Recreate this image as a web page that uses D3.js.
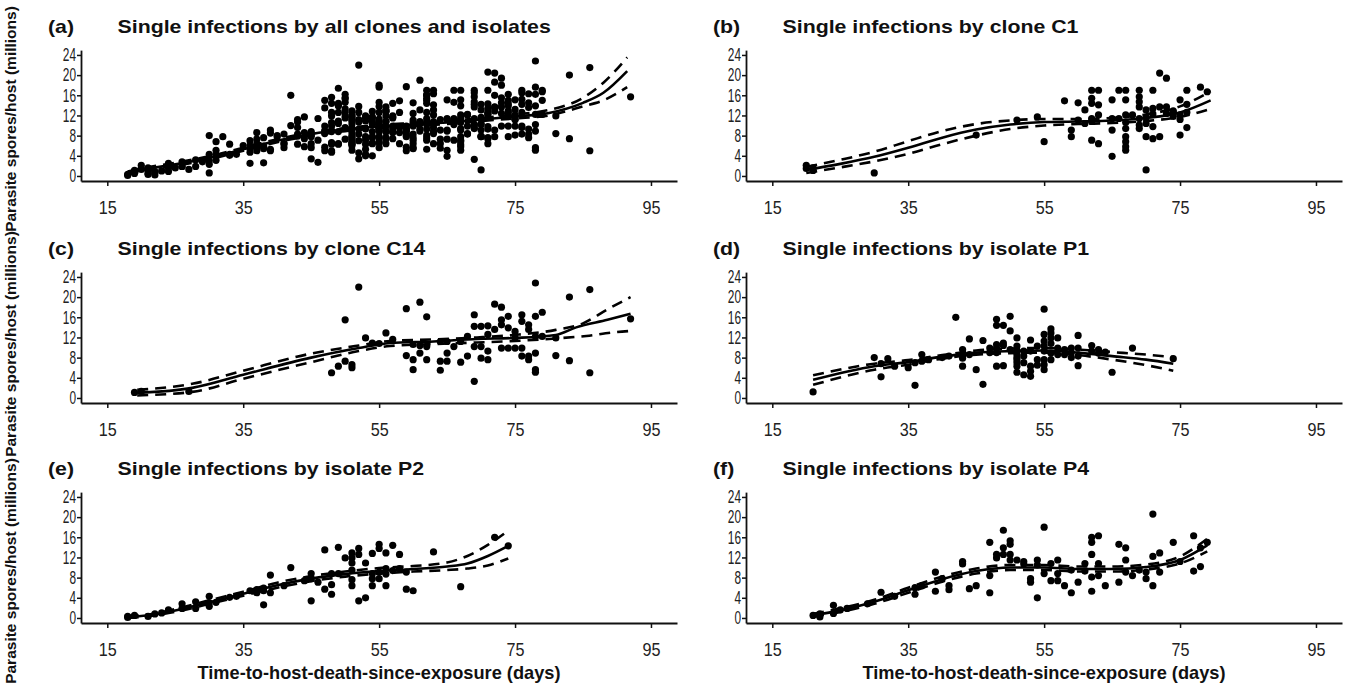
<!DOCTYPE html>
<html><head><meta charset="utf-8">
<script src="https://cdn.jsdelivr.net/npm/d3@7"></script>
<style>body{margin:0;background:#fff}svg{display:block}</style>
</head><body>
<svg id="chart" width="1349" height="685"></svg>
<script>
const xTicks = [15, 35, 55, 75, 95];
const yTicks = [0, 4, 8, 12, 16, 20, 24];
const panelLetters = ["(a)", "(b)", "(c)", "(d)", "(e)", "(f)"];
const panelTitles = [
  "Single infections by all clones and isolates",
  "Single infections by clone C1",
  "Single infections by clone C14",
  "Single infections by isolate P1",
  "Single infections by isolate P2",
  "Single infections by isolate P4"
];
const xAxisTitle = "Time-to-host-death-since-exposure (days)";
const yAxisTitle = "Parasite spores/host (millions)";

// observed points [day, spores]
const c1Points = [[20,2.1],[20,1.5],[21,1.1],[21,1.6],[30,0.6],[45,8.1],[51,11.1],[54,11.7],[55,6.8],[58,14.9],[59,9.1],[59,7.8],[60,14.5],[61,13.1],[60,11.1],[61,10.4],[62,17.0],[62,15.4],[62,14.4],[62,7.1],[62,11.4],[62,10.8],[63,17.0],[63,14.1],[63,6.4],[63,12.1],[65,15.1],[65,9.1],[65,3.9],[65,11.4],[66,17.0],[66,11.4],[67,17.0],[67,15.1],[67,9.4],[67,7.8],[67,6.8],[67,5.8],[67,5.1],[67,12.1],[67,10.6],[68,12.1],[69,17.0],[69,15.7],[69,14.7],[69,13.7],[69,11.4],[69,10.1],[69,9.4],[70,13.1],[70,7.8],[70,1.2],[70,11.6],[70,10.4],[71,17.0],[71,13.4],[71,9.8],[71,7.4],[71,12.3],[72,20.4],[73,19.4],[72,13.7],[73,13.7],[72,7.8],[73,12.4],[74,12.6],[74,11.8],[74,12.9],[75,15.1],[75,8.1],[75,11.2],[75,12.1],[76,17.0],[76,9.6],[76,14.2],[76,12.6],[78,17.6],[79,16.7]];
const c14Points = [[19,1.1],[20,1.3],[27,1.3],[48,5.0],[49,6.3],[50,15.5],[50,7.3],[51,6.6],[51,6.0],[52,22.0],[53,11.9],[54,10.9],[55,10.8],[56,12.9],[57,11.6],[59,17.7],[59,8.4],[60,5.6],[60,7.6],[60,10.6],[61,19.0],[61,8.9],[61,10.4],[62,16.1],[62,7.6],[62,10.2],[64,5.5],[64,7.3],[64,11.2],[65,8.9],[65,7.3],[65,11.2],[66,10.2],[67,7.1],[67,11.2],[68,12.2],[68,8.3],[69,16.5],[69,14.2],[69,3.3],[69,10.2],[70,14.2],[70,10.2],[70,7.9],[71,14.3],[71,12.6],[71,9.3],[71,7.6],[72,18.6],[72,13.6],[73,18.0],[73,15.5],[73,14.5],[73,9.9],[74,16.2],[74,13.9],[74,9.9],[75,13.2],[75,9.9],[75,11.9],[76,16.5],[76,15.2],[76,9.9],[76,8.3],[77,14.5],[77,13.6],[77,8.3],[77,7.6],[78,22.8],[78,16.2],[78,12.2],[78,8.9],[78,5.6],[78,5.1],[79,17.0],[79,12.2],[81,11.9],[81,8.4],[83,20.0],[83,7.4],[86,21.5],[86,5.0],[92,15.7]];
const p1Points = [[21,1.2],[30,8.0],[31,6.8],[31,4.2],[32,7.8],[33,6.3],[35,6.0],[36,2.5],[36,7.0],[37,8.6],[37,7.3],[38,7.6],[40,8.0],[41,8.3],[42,16.0],[43,8.3],[43,9.6],[43,6.3],[43,7.9],[44,11.7],[44,8.6],[45,5.6],[46,11.4],[46,2.7],[47,9.9],[47,9.0],[48,15.6],[48,14.4],[48,9.9],[48,9.0],[48,6.3],[48,10.6],[49,14.4],[49,10.9],[49,10.4],[49,6.4],[50,16.2],[50,13.3],[50,9.6],[51,11.9],[51,10.3],[51,8.6],[51,7.6],[51,6.3],[51,5.1],[51,9.3],[51,8.0],[51,7.0],[52,9.3],[52,7.0],[52,4.6],[52,8.3],[53,11.5],[53,9.3],[53,6.3],[53,4.3],[53,5.3],[54,10.3],[54,7.6],[54,6.5],[55,17.6],[55,12.6],[55,11.3],[55,10.3],[55,9.3],[55,7.6],[55,5.6],[55,6.6],[56,13.7],[56,12.9],[56,11.9],[56,10.8],[56,8.9],[56,7.6],[57,11.9],[57,9.9],[57,8.6],[58,8.6],[58,9.6],[59,9.9],[59,8.0],[59,9.0],[60,12.4],[60,9.9],[60,8.3],[60,6.4],[62,10.4],[62,9.3],[63,9.6],[63,8.9],[64,9.1],[65,5.1],[68,9.9],[74,7.8]];
const p2Points = [[18,0.1],[18,0.3],[19,0.5],[21,0.3],[22,0.8],[23,1.0],[24,1.6],[26,1.9],[26,2.8],[28,1.9],[28,3.2],[30,4.3],[30,3.0],[30,2.3],[31,3.1],[33,4.1],[34,4.3],[36,5.4],[37,5.0],[37,5.6],[38,2.6],[38,5.4],[38,5.9],[39,8.5],[39,5.0],[41,6.4],[42,10.0],[44,7.4],[45,3.4],[45,8.8],[45,7.8],[46,7.1],[47,13.5],[47,5.7],[48,4.7],[48,6.6],[48,8.8],[49,14.0],[49,8.8],[50,11.9],[51,12.9],[51,11.9],[51,10.9],[51,9.5],[51,7.6],[51,6.4],[52,3.4],[52,13.8],[52,12.6],[53,10.9],[53,4.0],[54,12.8],[54,7.8],[54,6.4],[54,8.8],[55,14.6],[55,13.8],[55,7.8],[55,9.1],[56,12.9],[56,9.8],[56,8.7],[56,6.4],[57,14.4],[57,9.4],[58,12.6],[58,9.8],[59,5.7],[59,9.1],[60,5.4],[63,13.1],[67,6.2],[72,16.0],[74,14.3]];
const p4Points = [[21,0.5],[22,0.8],[22,0.2],[24,2.5],[24,0.9],[25,1.6],[26,1.9],[29,2.8],[31,5.1],[33,4.3],[36,6.0],[36,4.7],[37,6.4],[39,9.1],[39,5.3],[40,7.8],[41,6.4],[41,5.6],[43,11.2],[43,10.7],[44,5.8],[45,6.4],[47,15.0],[47,5.0],[47,8.4],[48,12.6],[48,11.9],[49,17.4],[49,13.9],[49,12.6],[50,15.3],[50,14.6],[50,12.6],[50,11.5],[51,11.5],[52,11.2],[52,10.7],[53,7.8],[53,7.1],[54,4.0],[54,11.5],[54,10.5],[55,18.0],[55,8.8],[56,10.8],[56,7.4],[57,11.5],[57,8.8],[57,7.4],[58,6.4],[59,9.5],[59,5.0],[60,7.1],[61,10.8],[61,9.3],[62,16.0],[62,15.0],[62,12.6],[62,8.1],[62,5.3],[63,16.3],[63,10.8],[63,8.4],[64,6.4],[66,14.6],[66,7.1],[67,13.9],[67,11.5],[67,9.1],[68,8.4],[69,9.5],[70,7.8],[70,9.1],[71,20.6],[71,12.2],[71,6.4],[72,12.9],[72,9.1],[74,15.0],[75,11.2],[77,16.3],[77,9.3],[78,10.2],[78,13.9],[79,15.0]];

// fitted curves and confidence bands [day, spores]
const allFit   = [[18,0.6],[20,1.2],[25,2.3],[30,3.6],[35,5.3],[40,7.0],[45,8.3],[50,9.2],[55,9.8],[60,10.2],[65,10.6],[70,11.2],[75,11.8],[80,12.5],[85,14.5],[88,16.5],[91.5,20.8]];
const allUpper = [[18,0.9],[20,1.5],[25,2.6],[30,3.9],[35,5.6],[40,7.3],[45,8.6],[50,9.5],[55,10.1],[60,10.5],[65,10.9],[70,11.5],[75,12.2],[80,13.1],[85,15.5],[88,18.5],[91.5,23.5]];
const allLower = [[18,0.3],[20,0.9],[25,2.0],[30,3.3],[35,5.0],[40,6.7],[45,8.0],[50,8.9],[55,9.5],[60,9.9],[65,10.3],[70,10.9],[75,11.4],[80,12.0],[85,13.8],[88,15.0],[91.5,17.6]];
const c1Fit   = [[20,1.2],[25,2.4],[30,3.8],[35,5.6],[40,7.6],[45,9.2],[50,10.2],[55,10.7],[60,10.8],[65,11.0],[70,11.5],[75,12.6],[79.5,15.0]];
const c1Upper = [[20,1.8],[25,3.2],[30,4.8],[35,6.9],[40,8.9],[45,10.3],[50,11.0],[55,11.3],[60,11.3],[65,11.5],[70,12.2],[75,13.8],[79.5,16.8]];
const c1Lower = [[20,0.6],[25,1.7],[30,2.9],[35,4.4],[40,6.3],[45,8.0],[50,9.3],[55,10.0],[60,10.3],[65,10.5],[70,10.9],[75,11.7],[79.5,13.3]];
const c14Fit   = [[19.4,1.0],[27.5,2.0],[35,4.6],[45,8.0],[52,9.9],[56.6,10.9],[63,11.2],[69.4,11.7],[75,11.9],[81,12.5],[84,14.0],[88.6,15.5],[92,16.7]];
const c14Upper = [[19.4,1.6],[27.5,2.8],[35,5.4],[45,8.8],[52,10.4],[56.6,11.3],[63,11.6],[69.4,12.0],[75,12.5],[81,13.5],[85,14.8],[88.5,17.5],[92,20.0]];
const c14Lower = [[19.4,0.5],[27.5,1.2],[35,3.8],[45,7.1],[52,9.3],[56.6,10.3],[63,10.7],[69.4,11.0],[75,11.3],[81,11.8],[85.5,12.3],[89.4,13.0],[92,13.3]];
const p1Fit   = [[21,3.6],[30,6.3],[35,7.1],[40,8.2],[45,9.0],[50,9.3],[55,9.4],[60,9.0],[65,8.3],[70,7.6],[74,6.8]];
const p1Upper = [[21,4.5],[30,6.8],[35,7.5],[40,8.5],[45,9.4],[50,9.8],[55,9.9],[60,9.6],[65,9.1],[70,8.6],[74,8.1]];
const p1Lower = [[21,2.6],[30,5.6],[35,6.6],[40,7.8],[45,8.6],[50,8.9],[55,9.0],[60,8.5],[65,7.6],[70,6.5],[74,5.4]];
const p2Fit   = [[18,0.2],[22,0.7],[26,1.8],[30,3.1],[35,4.8],[40,6.5],[45,7.8],[50,8.7],[55,9.3],[60,9.7],[65,10.2],[68,10.8],[71,12.3],[74,14.3]];
const p2Upper = [[18,0.4],[22,0.9],[26,2.1],[30,3.5],[35,5.2],[40,7.0],[45,8.3],[50,9.2],[55,9.9],[60,10.3],[65,11.0],[68,12.3],[71,14.5],[74,17.3]];
const p2Lower = [[18,0.0],[22,0.5],[26,1.5],[30,2.8],[35,4.4],[40,6.0],[45,7.3],[50,8.2],[55,8.8],[60,9.2],[65,9.5],[68,9.8],[71,10.4],[74,11.8]];
const p4Fit   = [[21,0.5],[25,1.5],[30,3.2],[35,5.5],[40,7.7],[45,9.3],[50,10.0],[55,10.0],[60,9.7],[65,9.7],[70,10.1],[75,11.5],[79,14.4]];
const p4Upper = [[21,0.8],[25,1.9],[30,3.6],[35,6.0],[40,8.2],[45,9.8],[50,10.5],[55,10.5],[60,10.2],[65,10.2],[70,10.6],[75,12.2],[79,15.7]];
const p4Lower = [[21,0.2],[25,1.2],[30,2.8],[35,5.0],[40,7.2],[45,8.8],[50,9.5],[55,9.5],[60,9.2],[65,9.2],[70,9.6],[75,10.8],[79,13.2]];

const allPoints = [].concat(c1Points, c14Points, p1Points, p2Points, p4Points);
const panelPoints = [allPoints, c1Points, c14Points, p1Points, p2Points, p4Points];
const panelFits = [
  [allFit, allUpper, allLower], [c1Fit, c1Upper, c1Lower], [c14Fit, c14Upper, c14Lower],
  [p1Fit, p1Upper, p1Lower], [p2Fit, p2Upper, p2Lower], [p4Fit, p4Upper, p4Lower]
];

// layout
const colLeft = [81, 746];
const rowAxisY = [181, 403, 623];
const yLabelCenter = [119, 344, 571];
const plotW = 596;
const pxPerUnit = 5.042;
const svg = d3.select("#chart");
const FONT = "'Liberation Sans', Arial, Helvetica, sans-serif";
const titleEm = 21.3;

function emWidthBold(s){
  const w = {"S":.667,"i":.278,"n":.611,"g":.611,"l":.278,"e":.556," ":.278,"f":.333,"c":.556,"t":.333,"o":.611,"s":.556,"b":.611,"y":.556,"a":.556,"d":.611,"C":.722,"P":.667,"1":.556,"4":.556,"2":.556,"(":.333,")":.333};
  let t=0; for(const ch of s) t += (w[ch]||.556); return t;
}

panelTitles.forEach((title, i) => {
  const col = i % 2, row = Math.floor(i / 2);
  const left = colLeft[col], axisY = rowAxisY[row];
  const x = d3.scaleLinear().domain([11.13, 98.83]).range([0, plotW]);
  const y = d3.scaleLinear().domain([-1, 24.96]).range([0, -25.96 * pxPerUnit]);
  const g = svg.append("g").attr("transform", `translate(${left},${axisY})`);

  // x axis
  const xa = g.append("g").call(d3.axisBottom(x).tickValues(xTicks).tickSize(5).tickSizeOuter(0));
  xa.select(".domain").attr("stroke", "#111").attr("stroke-width", 1.8);
  xa.selectAll(".tick line").attr("stroke", "#111").attr("stroke-width", 1.5);
  xa.selectAll(".tick text").attr("y", 20).attr("dy", "0.71em").attr("font-family", FONT)
    .attr("font-size", 18).attr("fill", "#222").attr("textLength", 18).attr("lengthAdjust", "spacingAndGlyphs");

  // y axis
  const ya = g.append("g").call(d3.axisLeft(y).tickValues(yTicks).tickSize(4).tickSizeOuter(0));
  ya.select(".domain").attr("stroke", "#111").attr("stroke-width", 1.8);
  ya.selectAll(".tick line").attr("stroke", "#111").attr("stroke-width", 1.5);
  ya.selectAll(".tick text").attr("x", -5).attr("font-family", FONT).attr("font-size", 18).attr("fill", "#222")
    .attr("textLength", d => String(d).length * 6.6).attr("lengthAdjust", "spacingAndGlyphs");

  // points
  g.append("g").selectAll("circle").data(panelPoints[i]).join("circle")
    .attr("cx", d => x(d[0])).attr("cy", d => y(d[1])).attr("r", 3.6).attr("fill", "#000");

  // fit lines
  const line = d3.line().x(d => x(d[0])).y(d => y(d[1])).curve(d3.curveMonotoneX);
  const [fit, up, lo] = panelFits[i];
  g.append("path").attr("d", line(fit)).attr("fill", "none").attr("stroke", "#000").attr("stroke-width", 2.6);
  [up, lo].forEach(s => g.append("path").attr("d", line(s)).attr("fill", "none").attr("stroke", "#000")
    .attr("stroke-width", 2.6).attr("stroke-dasharray", "11,7"));

  // titles
  g.append("text").attr("x", -33).attr("y", -148).attr("font-family", FONT).attr("font-weight", "bold")
    .attr("font-size", 18.5).attr("fill", "#111").attr("textLength", emWidthBold(panelLetters[i]) * titleEm)
    .attr("lengthAdjust", "spacingAndGlyphs").text(panelLetters[i]);
  g.append("text").attr("x", 36.5).attr("y", -148).attr("font-family", FONT).attr("font-weight", "bold")
    .attr("font-size", 18.5).attr("fill", "#111").attr("textLength", emWidthBold(title) * titleEm)
    .attr("lengthAdjust", "spacingAndGlyphs").text(title);

  if (row === 2) {
    g.append("text").attr("x", plotW / 2).attr("y", 56).attr("text-anchor", "middle").attr("font-family", FONT)
      .attr("font-weight", "bold").attr("font-size", 18.5).attr("fill", "#111")
      .attr("textLength", 363).attr("lengthAdjust", "spacingAndGlyphs").text(xAxisTitle);
  }
  if (col === 0) {
    svg.append("text").attr("transform", `translate(16,${yLabelCenter[row]}) rotate(-90)`).attr("text-anchor", "middle")
      .attr("font-family", FONT).attr("font-weight", "bold").attr("font-size", 15.5).attr("fill", "#111")
      .text(yAxisTitle);
  }
});
</script>
</body></html>
